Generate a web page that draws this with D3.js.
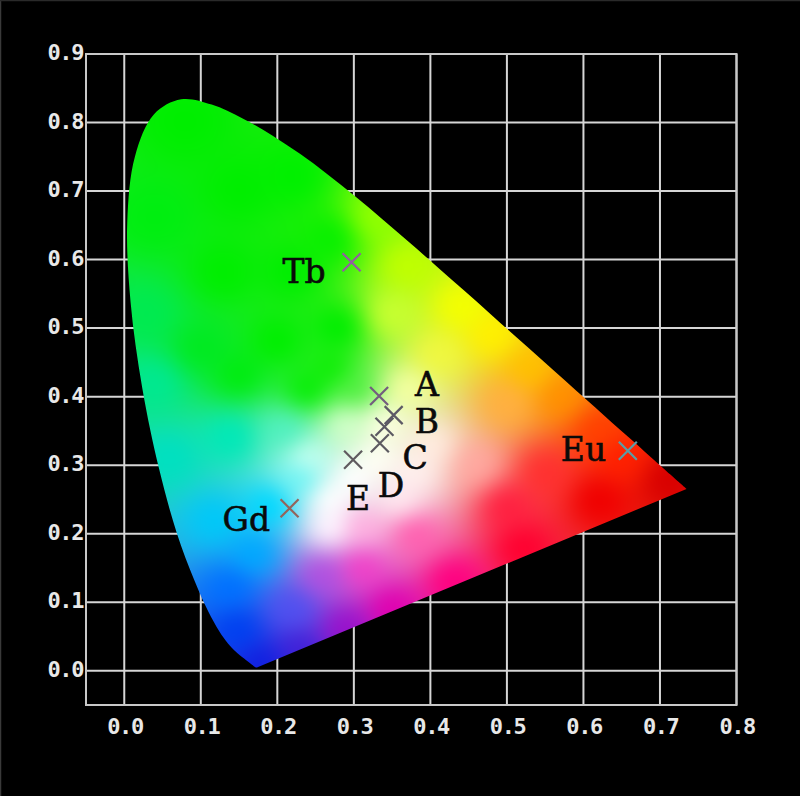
<!DOCTYPE html>
<html><head><meta charset="utf-8">
<script src="https://cdn.jsdelivr.net/npm/d3@7/dist/d3.min.js"></script>
<style>html,body{margin:0;padding:0;background:#000;}svg{display:block}</style>
</head><body>
<script>
// ---- data ----
// CIE 1931 spectral locus (chromaticity x,y), 380–700 nm
const wavelengths = [380,385,390,395,400,405,410,415,420,425,430,435,440,445,450,455,460,465,470,475,480,485,490,495,500,505,510,515,520,525,530,535,540,545,550,555,560,565,570,575,580,585,590,595,600,605,610,615,620,625,630,635,640,645,650,655,660,665,670,680,690,700];
const locusX = [0.1741,0.1740,0.1738,0.1736,0.1733,0.1730,0.1726,0.1721,0.1714,0.1703,0.1689,0.1669,0.1644,0.1611,0.1566,0.1510,0.1440,0.1355,0.1241,0.1096,0.0913,0.0687,0.0454,0.0235,0.0082,0.0039,0.0139,0.0389,0.0743,0.1142,0.1547,0.1929,0.2296,0.2658,0.3016,0.3373,0.3731,0.4087,0.4441,0.4788,0.5125,0.5448,0.5752,0.6029,0.6270,0.6482,0.6658,0.6801,0.6915,0.7006,0.7079,0.7140,0.7190,0.7230,0.7260,0.7283,0.7300,0.7311,0.7320,0.7334,0.7344,0.7347];
const locusY = [0.0050,0.0050,0.0049,0.0049,0.0048,0.0048,0.0048,0.0048,0.0051,0.0058,0.0069,0.0086,0.0109,0.0138,0.0177,0.0227,0.0297,0.0399,0.0578,0.0868,0.1327,0.2007,0.2950,0.4127,0.5384,0.6548,0.7502,0.8120,0.8338,0.8262,0.8059,0.7816,0.7543,0.7243,0.6923,0.6589,0.6245,0.5896,0.5547,0.5202,0.4866,0.4544,0.4242,0.3965,0.3725,0.3514,0.3340,0.3197,0.3083,0.2993,0.2920,0.2859,0.2809,0.2770,0.2740,0.2717,0.2700,0.2689,0.2680,0.2666,0.2656,0.2653];

const pointNames = ["Tb","Gd","Eu","A","B","C","D","E"];
const pointX = [0.297,0.216,0.658,0.333,0.352,0.340,0.334,0.299];
const pointY = [0.596,0.237,0.321,0.401,0.373,0.356,0.332,0.308];

const xTicks = [0.0,0.1,0.2,0.3,0.4,0.5,0.6,0.7,0.8];
const yTicks = [0.0,0.1,0.2,0.3,0.4,0.5,0.6,0.7,0.8,0.9];
const xDomain = [-0.05, 0.8];
const yDomain = [-0.05, 0.9];

// colour field anchors (chromaticity x, y, displayed colour)
const fieldX = [0.08,0.04,0.15,0.22,0.13,0.22,0.27,0.28,0.20,0.27,0.10,0.15,0.24,0.30,
  0.33,0.37,0.35, 0.44,0.48,0.41, 0.37, 0.53,0.57,0.50, 0.62,0.65,0.71,0.62,0.55,0.50, 0.46,0.40,0.38,0.36,
  0.52,0.43,0.35,0.29,0.23,0.18, 0.38,0.31,0.26,0.22,0.31, 0.15,0.14,0.17, 0.19,0.12,0.23,
  0.06,0.04,0.14,0.21,0.03,
  0.27,0.30,0.33,0.24,0.27,0.34,0.29];
const fieldY = [0.80,0.66,0.70,0.72,0.58,0.58,0.63,0.50,0.48,0.44,0.47,0.43,0.41,0.41,
  0.66,0.59,0.52, 0.53,0.49,0.46, 0.41, 0.44,0.40,0.39, 0.35,0.31,0.28,0.25,0.29,0.24, 0.30,0.33,0.29,0.25,
  0.18,0.13,0.09,0.06,0.03,0.01, 0.20,0.15,0.14,0.09,0.21, 0.06,0.12,0.17, 0.24,0.22,0.28,
  0.31,0.42,0.34,0.35,0.52,
  0.25,0.28,0.31,0.31,0.21,0.36,0.36];
const fieldColor = ["#00ee00","#00ee10","#00ee00","#00f000","#00ee00","#00ee00","#08f000","#00ee00","#00ee00","#10ee08","#00ea20","#00ec10","#08ee08","#50f040",
  "#90ff00","#c0ff00","#c8ff30", "#f4ff00","#fff000","#f0f840", "#f4ffa0", "#ffc000","#ff9000","#ffb040", "#ff4000","#ff2000","#d80000","#f00000","#ff3030","#ff2040", "#ffa8a0","#ffece0","#fff0ee","#ffe8f0",
  "#ff0030","#ff0080","#e000b0","#9810cc","#4020d8","#1020e0", "#ff60b0","#f040c8","#b050e0","#5050f0","#ffb0e0", "#0040f0","#0070ff","#00a8ff", "#00d8ff","#00c8f8","#70f4f4",
  "#00e0c0","#00e890","#00e8b8","#50f0c0","#00ea50",
  "#ffffff","#ffffff","#fffff4","#c0fff0","#fff4ff","#fcffe0","#d0ffc8"];

// label layout (pixel offsets from marker)
const labelDX = [-69,-67,-67,36,21,18,-2,-7];
const labelDY = [21,23,10,0,18,42,54,50];

// ---- chart ----
const W = 800, H = 796;
const x = d3.scaleLinear().domain(xDomain).range([86, 736.5]);
const y = d3.scaleLinear().domain(yDomain).range([705, 54]);

const svg = d3.select("body").append("svg").attr("width", W).attr("height", H);
svg.append("rect").attr("width", W).attr("height", H).attr("fill", "#000");
svg.append("line").attr("x1",0.5).attr("x2",0.5).attr("y1",0).attr("y2",H).attr("stroke","#3a3a3a").attr("stroke-width",1.5);
svg.append("line").attr("x1",0).attr("x2",W).attr("y1",0.5).attr("y2",0.5).attr("stroke","#2a2a2a").attr("stroke-width",1.5);

const gridColor = "#d6d6d6";
const grid = svg.append("g");
grid.selectAll("line.v").data(xTicks).join("line")
  .attr("x1", d => x(d)).attr("x2", d => x(d)).attr("y1", y(yDomain[1])).attr("y2", y(yDomain[0]))
  .attr("stroke", gridColor).attr("stroke-width", 2);
grid.selectAll("line.h").data(yTicks).join("line")
  .attr("y1", d => y(d)).attr("y2", d => y(d)).attr("x1", x(xDomain[0])).attr("x2", x(xDomain[1]))
  .attr("stroke", gridColor).attr("stroke-width", 2);
grid.append("rect").attr("x", x(xDomain[0])).attr("y", y(yDomain[1]))
  .attr("width", x(xDomain[1]) - x(xDomain[0])).attr("height", y(yDomain[0]) - y(yDomain[1]))
  .attr("fill", "none").attr("stroke", "#c8c8c8").attr("stroke-width", 2);

// axis labels
const fmt = d3.format(".1f");
const tickFont = "'DejaVu Sans Mono', monospace";
svg.append("g").selectAll("text").data(xTicks).join("text")
  .attr("x", d => x(d) + 0.7).attr("y", 734).attr("text-anchor", "middle")
  .attr("font-family", tickFont).attr("font-weight", "bold").attr("font-size", 22).attr("letter-spacing", -1.4)
  .attr("fill", "#e8e8e8").text(fmt);
svg.append("g").selectAll("text").data(yTicks).join("text")
  .attr("x", 83).attr("y", d => y(d) + 6).attr("text-anchor", "end")
  .attr("font-family", tickFont).attr("font-weight", "bold").attr("font-size", 22).attr("letter-spacing", -1.4)
  .attr("fill", "#e8e8e8").text(fmt);

// spectral locus (smooth curve, closed by the straight purple line)
const locusPts = locusX.map((v, i) => [x(v), y(locusY[i])]);
const locusPath = d3.line().curve(d3.curveCatmullRom)(locusPts) + "Z";

// colour field
const anchors = fieldX.map((v, i) => { const c = d3.rgb(fieldColor[i]); return [v, fieldY[i], c.r, c.g, c.b]; });
function fieldAt(cx, cy) {
  let sw = 0, r = 0, g = 0, b = 0;
  for (const a of anchors) {
    const dx = cx - a[0], dy = cy - a[1];
    const d2 = dx * dx + dy * dy + 1e-7;
    const w = 1 / (d2 * Math.sqrt(d2));
    sw += w; r += w * a[2]; g += w * a[3]; b += w * a[4];
  }
  return [r / sw, g / sw, b / sw];
}
const pad = 24;
const x0 = Math.floor(d3.min(locusPts, p => p[0])) - pad, x1 = Math.ceil(d3.max(locusPts, p => p[0])) + pad;
const y0 = Math.floor(d3.min(locusPts, p => p[1])) - pad, y1 = Math.ceil(d3.max(locusPts, p => p[1])) + pad;
const cw = x1 - x0, ch = y1 - y0;
const raw = document.createElement("canvas");
raw.width = cw; raw.height = ch;
const rctx = raw.getContext("2d");
const img = rctx.createImageData(cw, ch);
for (let j = 0; j < ch; j++) {
  const cy = y.invert(y0 + j + 0.5);
  for (let i = 0; i < cw; i++) {
    const cx = x.invert(x0 + i + 0.5);
    const c = fieldAt(cx, cy);
    const k = (j * cw + i) * 4;
    img.data[k] = c[0]; img.data[k + 1] = c[1]; img.data[k + 2] = c[2]; img.data[k + 3] = 255;
  }
}
rctx.putImageData(img, 0, 0);
const canvas = document.createElement("canvas");
canvas.width = cw; canvas.height = ch;
const ctx = canvas.getContext("2d");
ctx.filter = "blur(9px)";
ctx.drawImage(raw, 0, 0);

const defs = svg.append("defs");
defs.append("clipPath").attr("id", "locusClip").append("path").attr("d", locusPath);
svg.append("image").attr("x", x0).attr("y", y0).attr("width", cw).attr("height", ch)
  .attr("href", canvas.toDataURL()).attr("clip-path", "url(#locusClip)");

// markers
const pts = pointNames.map((n, i) => ({ name: n, x: pointX[i], y: pointY[i], dx: labelDX[i], dy: labelDY[i] }));
const mk = svg.append("g").selectAll("g").data(pts).join("g")
  .attr("transform", d => `translate(${x(d.x)},${y(d.y)})`);
mk.append("path").attr("d", "M-9,-9L9,9M-9,9L9,-9")
  .attr("stroke", d => { const c = fieldAt(d.x, d.y); return d3.rgb(0.3 * (255 - c[0]) + 0.7 * 128, 0.3 * (255 - c[1]) + 0.7 * 128, 0.3 * (255 - c[2]) + 0.7 * 128); })
  .attr("stroke-width", 2.2).attr("fill", "none");
mk.append("text").attr("x", d => d.dx).attr("y", d => d.dy)
  .attr("font-family", "'DejaVu Serif', serif").attr("font-size", 33).attr("fill", "#0a0a0a")
  .attr("stroke", "#0a0a0a").attr("stroke-width", 0.6)
  .text(d => d.name);
</script>
</body></html>
